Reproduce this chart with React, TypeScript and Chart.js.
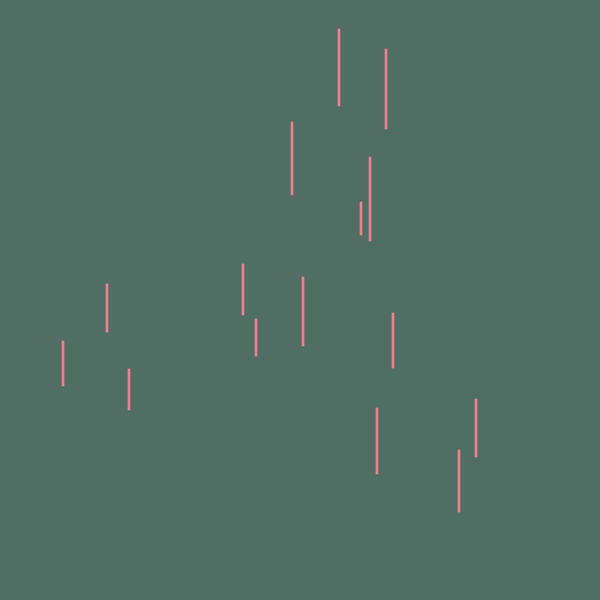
import React, { useEffect, useRef } from 'react';
import { Chart, registerables } from 'chart.js';
Chart.register(...registerables);

// segment positions (x, top, bottom)
const xs = [63, 107, 129, 243, 256, 292, 303, 339, 361, 370, 377, 386, 393, 459, 476];
const tops = [341, 284, 369, 264, 319, 122, 277, 29, 202, 157, 408, 49, 313, 450, 399];
const bottoms = [386, 332, 410, 315, 356, 195, 346, 106, 235, 241, 474, 129, 368, 512, 457];

const RangeLines = () => {
  const chartRef = useRef(null);

  useEffect(() => {
    document.body.style.margin = '0';
    const ctx = (chartRef.current as HTMLCanvasElement).getContext('2d');

    const chart = new Chart(ctx, {
      type: 'bar',
      data: {
        datasets: [
          {
            data: xs.map((x, i) => ({ x, y: [tops[i], bottoms[i]] })) as any,
            backgroundColor: '#f0808f',
            borderWidth: 0,
            barThickness: 2,
          },
        ],
      },
      options: {
        animation: false,
        responsive: true,
        maintainAspectRatio: false,
        layout: { padding: 0 },
        plugins: {
          legend: { display: false },
          tooltip: { enabled: false },
        },
        scales: {
          x: { type: 'linear', min: 0, max: 600, offset: false, display: false },
          y: { min: 0, max: 600, reverse: true, display: false },
        },
      },
    });

    return () => {
      chart.destroy();
    };
  }, []);

  return (
    <div style={{ width: 600, height: 600, background: '#516e64', position: 'relative' }}>
      <canvas ref={chartRef}></canvas>
    </div>
  );
};

export default RangeLines;
